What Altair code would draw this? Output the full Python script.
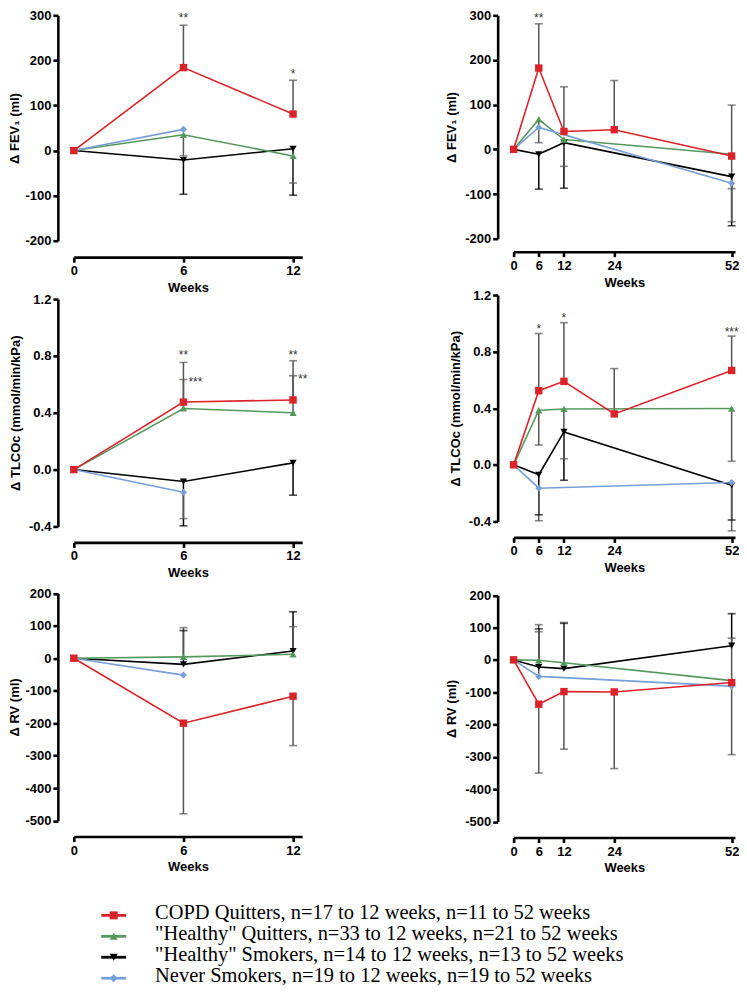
import altair as alt
import pandas as pd

# ---------------- data ----------------
series = ["COPD Quitters", "\"Healthy\" Quitters", "\"Healthy\" Smokers", "Never Smokers"]
legend_labels = [
    "COPD Quitters, n=17 to 12 weeks, n=11 to 52 weeks",
    "\"Healthy\" Quitters, n=33 to 12 weeks, n=21 to 52 weeks",
    "\"Healthy\" Smokers, n=14 to 12 weeks, n=13 to 52 weeks",
    "Never Smokers, n=19 to 12 weeks, n=19 to 52 weeks",
]
line_colors = ["#db2229", "#55985c", "#000000", "#769fd7"]
err_colors = ["#555555", "#555555", "#000000", "#555555"]
shapes = ["square", "triangle-up", "triangle-down", "diamond"]
marker_sizes = [55, 50, 50, 60]

wk12 = [0, 6, 12]
wk12_never = [0, 6]
wk52_copd = [0, 6, 12, 24, 52]
wk52 = [0, 6, 12, 52]
wk52_never = [0, 6, 52]

# FEV1, 0-12 weeks (ml): mean and error-bar end
fev1_12_copd = [0, 184, 81];        fev1_12_copd_bar = [None, 278, 156]
fev1_12_hq = [0, 35, -12];          fev1_12_hq_bar = [None, -12, -72]
fev1_12_hs = [0, -21, 4];           fev1_12_hs_bar = [None, -97, -99]
fev1_12_ns = [0, 47];               fev1_12_ns_bar = [None, None]

# FEV1, 0-52 weeks
fev1_52_copd = [0, 182, 40, 44, -15]; fev1_52_copd_bar = [None, 281, 140, 154, 99]
fev1_52_hq = [0, 67, 22, -11];        fev1_52_hq_bar = [None, 15, -38, -88]
fev1_52_hs = [0, -11, 15, -61];       fev1_52_hs_bar = [None, -89, -87, -171]
fev1_52_ns = [0, 49, -76];            fev1_52_ns_bar = [None, None, -162]

# TLCOc, 0-12 weeks (mmol/min/kPa)
tlco_12_copd = [0, 0.475, 0.49];    tlco_12_copd_bar = [None, 0.754, 0.766]
tlco_12_hq = [0, 0.43, 0.40];       tlco_12_hq_bar = [None, 0.634, 0.66]
tlco_12_hs = [0, -0.084, 0.047];    tlco_12_hs_bar = [None, -0.396, -0.18]
tlco_12_ns = [0, -0.16];            tlco_12_ns_bar = [None, -0.345]

# TLCOc, 0-52 weeks
tlco_52_copd = [0, 0.524, 0.59, 0.36, 0.667]; tlco_52_copd_bar = [None, 0.928, 1.005, 0.68, 0.91]
tlco_52_hq = [0, 0.386, 0.395, 0.398];        tlco_52_hq_bar = [None, 0.14, 0.043, 0.025]
tlco_52_hs = [0, -0.07, 0.233, -0.144];       tlco_52_hs_bar = [None, -0.353, -0.109, -0.39]
tlco_52_ns = [0, -0.165, -0.125];             tlco_52_ns_bar = [None, -0.395, -0.466]

# RV, 0-12 weeks (ml)
rv_12_copd = [0, -200, -117];       rv_12_copd_bar = [None, -479, -269]
rv_12_hq = [0, 4, 12];              rv_12_hq_bar = [None, 94, 97]
rv_12_hs = [0, -19, 22];            rv_12_hs_bar = [None, 85, 143]
rv_12_ns = [0, -52];                rv_12_ns_bar = [None, None]

# RV, 0-52 weeks
rv_52_copd = [0, -137, -98, -99, -70]; rv_52_copd_bar = [None, -350, -276, -336, -293]
rv_52_hq = [0, -1, -9, -64];           rv_52_hq_bar = [None, 87, 116, 67]
rv_52_hs = [0, -22, -27, 44];          rv_52_hs_bar = [None, 96, 113, 143]
rv_52_ns = [0, -51, -81];              rv_52_ns_bar = [None, 109, None]

# significance marks
fev1_12_star_wk = [6, 12];  fev1_12_star_val = [300, 176];  fev1_12_star_txt = ["**", "*"]
fev1_52_star_wk = [6];      fev1_52_star_val = [300];       fev1_52_star_txt = ["**"]
tlco_12_star_wk = [6, 12];  tlco_12_star_val = [0.83, 0.83]; tlco_12_star_txt = ["**", "**"]
tlco_12_side_wk = [6, 12];  tlco_12_side_val = [0.634, 0.66]; tlco_12_side_txt = ["***", "**"]
tlco_52_star_wk = [6, 12, 52]; tlco_52_star_val = [0.98, 1.06, 0.96]; tlco_52_star_txt = ["*", "*", "***"]

draw_order = [2, 1, 3, 0]
MINUS_FIX = "replace(datum.label, '\u2212', '-')"


def build(weeks, means, bars):
    lines, errs = [], []
    for i in draw_order:
        for w, m, b in zip(weeks[i], means[i], bars[i]):
            lines.append({"series": series[i], "week": w, "value": m})
            if b is not None:
                errs.append({"series": series[i], "week": w, "value": m, "end": b,
                             "ecolor": err_colors[i]})
    return pd.DataFrame(lines), pd.DataFrame(errs)


def stars_df(wk, val, txt):
    return pd.DataFrame({"week": wk, "value": val, "txt": txt})


def panel(weeks, means, bars, xdom, xticks, ydom, yticks, yfmt, ytitle,
          w, h, yrange, xoff, ytp, stars=None, side=None):
    ldf, edf = build(weeks, means, bars)
    xs = alt.Scale(domain=xdom, nice=False, zero=False)
    ys = alt.Scale(domain=ydom, range=yrange, nice=False, zero=False)
    xax = alt.Axis(values=xticks, title="Weeks", offset=xoff, titlePadding=4,
                   labelPadding=2.5, format="d", labelFlush=False, labelOverlap=False)
    yax = alt.Axis(values=yticks, format=yfmt, labelExpr=MINUS_FIX, title=ytitle, offset=16,
                   titlePadding=ytp, labelPadding=2, labelOverlap=False)
    X = alt.X("week:Q", scale=xs, axis=xax)
    Y = alt.Y("value:Q", scale=ys, axis=yax)
    color = alt.Color("series:N", scale=alt.Scale(domain=series, range=line_colors), legend=None)
    shape = alt.Shape("series:N", scale=alt.Scale(domain=series, range=shapes), legend=None)
    size = alt.Size("series:N", scale=alt.Scale(domain=series, range=marker_sizes), legend=None)

    rule = alt.Chart(edf).mark_rule(strokeWidth=1.5).encode(
        x=X, y=Y, y2=alt.Y2("end:Q"), color=alt.Color("ecolor:N", scale=None))
    cap = alt.Chart(edf).mark_tick(orient="horizontal", size=8, thickness=1.6).encode(
        x=X, y=alt.Y("end:Q", scale=ys, axis=yax), color=alt.Color("ecolor:N", scale=None))
    line = alt.Chart(ldf).mark_line(strokeWidth=1.6).encode(
        x=X, y=Y, color=color, order=alt.Order("week:Q"))
    pts = alt.Chart(ldf).mark_point(filled=True, opacity=1).encode(
        x=X, y=Y, color=color, shape=shape, size=size)
    layers = [rule, cap, line, pts]
    if stars is not None:
        layers.append(alt.Chart(stars).mark_text(
            font="Liberation Sans", fontSize=12, color="#333333", dy=3,
            align="center", baseline="middle").encode(x=X, y=Y, text="txt:N"))
    if side is not None:
        layers.append(alt.Chart(side).mark_text(
            font="Liberation Sans", fontSize=12, color="#333333", dy=3, dx=5,
            align="left", baseline="middle").encode(x=X, y=Y, text="txt:N"))
    return alt.layer(*layers).properties(width=w, height=h)


W_L, W_R = 229, 222
XL_DOM, XR_DOM = [0, 12.5], [0, 52.8]
XL_T, XR_T = [0, 6, 12], [0, 6, 12, 24, 52]
FEV_T = [-200, -100, 0, 100, 200, 300]
TL_T = [-0.4, 0.0, 0.4, 0.8, 1.2]
RV_T = [-500, -400, -300, -200, -100, 0, 100, 200]

tl = panel([wk12, wk12, wk12, wk12_never],
           [fev1_12_copd, fev1_12_hq, fev1_12_hs, fev1_12_ns],
           [fev1_12_copd_bar, fev1_12_hq_bar, fev1_12_hs_bar, fev1_12_ns_bar],
           XL_DOM, XL_T, [-200, 300], FEV_T, "d", "Δ FEV₁ (ml)",
           W_L, 226, [226, 0], 16.5, 3,
           stars=stars_df(fev1_12_star_wk, fev1_12_star_val, fev1_12_star_txt))
tr = panel([wk52_copd, wk52, wk52, wk52_never],
           [fev1_52_copd, fev1_52_hq, fev1_52_hs, fev1_52_ns],
           [fev1_52_copd_bar, fev1_52_hq_bar, fev1_52_hs_bar, fev1_52_ns_bar],
           XR_DOM, XR_T, [-200, 300], FEV_T, "d", "Δ FEV₁ (ml)",
           W_R, 224, [224, 0], 13, 6,
           stars=stars_df(fev1_52_star_wk, fev1_52_star_val, fev1_52_star_txt))
ml = panel([wk12, wk12, wk12, wk12_never],
           [tlco_12_copd, tlco_12_hq, tlco_12_hs, tlco_12_ns],
           [tlco_12_copd_bar, tlco_12_hq_bar, tlco_12_hs_bar, tlco_12_ns_bar],
           XL_DOM, XL_T, [-0.4, 1.2], TL_T, ".1f", "Δ TLCOc (mmol/min/kPa)",
           W_L, 232, [232, 4], 16, 6,
           stars=stars_df(tlco_12_star_wk, tlco_12_star_val, tlco_12_star_txt),
           side=stars_df(tlco_12_side_wk, tlco_12_side_val, tlco_12_side_txt))
mr = panel([wk52_copd, wk52, wk52, wk52_never],
           [tlco_52_copd, tlco_52_hq, tlco_52_hs, tlco_52_ns],
           [tlco_52_copd_bar, tlco_52_hq_bar, tlco_52_hs_bar, tlco_52_ns_bar],
           XR_DOM, XR_T, [-0.4, 1.2], TL_T, ".1f", "Δ TLCOc (mmol/min/kPa)",
           W_R, 227, [227, 0], 16, 6,
           stars=stars_df(tlco_52_star_wk, tlco_52_star_val, tlco_52_star_txt))
bl = panel([wk12, wk12, wk12, wk12_never],
           [rv_12_copd, rv_12_hq, rv_12_hs, rv_12_ns],
           [rv_12_copd_bar, rv_12_hq_bar, rv_12_hs_bar, rv_12_ns_bar],
           XL_DOM, XL_T, [-500, 200], RV_T, "d", "Δ RV (ml)",
           W_L, 240.5, [240.5, 12.5], 16, 3)
br = panel([wk52_copd, wk52, wk52, wk52_never],
           [rv_52_copd, rv_52_hq, rv_52_hs, rv_52_ns],
           [rv_52_copd_bar, rv_52_hq_bar, rv_52_hs_bar, rv_52_ns_bar],
           XR_DOM, XR_T, [-500, 200], RV_T, "d", "Δ RV (ml)",
           W_R, 241.5, [241.5, 14.5], 16, 6)

# legend panel
leg_df = pd.DataFrame({"label": legend_labels, "series": series})
LY = alt.Y("label:N", scale=alt.Scale(type="point", domain=legend_labels,
                                       range=[39, 102], padding=0), axis=None)
lcolor = alt.Color("series:N", scale=alt.Scale(domain=series, range=line_colors), legend=None)
lshape = alt.Shape("series:N", scale=alt.Scale(domain=series, range=shapes), legend=None)
leg_rule = alt.Chart(leg_df).mark_rule(strokeWidth=2.8).encode(
    x=alt.value(27.5), x2=alt.value(52.5), y=LY, color=lcolor)
leg_pt = alt.Chart(leg_df).mark_point(filled=True, opacity=1, size=64).encode(
    x=alt.value(40), y=LY, color=lcolor, shape=lshape)
leg_txt = alt.Chart(leg_df).mark_text(
    align="left", baseline="middle", font="Liberation Serif", fontSize=20.5, dy=-2,
    color="black").encode(x=alt.value(81.5), y=LY, text="label:N")
legend = alt.layer(leg_rule, leg_pt, leg_txt).properties(width=W_L, height=102)

chart = alt.concat(
    tl, tr, ml, mr, bl, br, legend,
    columns=2, spacing={"row": 54.5, "column": 212}, bounds="flush", align="each",
).properties(
    padding={"left": 0, "top": 0, "right": 0, "bottom": 0}
).configure_view(stroke=None).configure_axis(
    domainColor="black", domainWidth=2.6, tickColor="black", tickWidth=2.6, tickSize=5,
    labelFont="Liberation Sans", labelFontWeight="bold", labelFontSize=13, labelColor="black",
    titleFont="Liberation Sans", titleFontWeight="bold", titleFontSize=13, titleColor="black",
    grid=False,
)

chart.save("out.html", embed_options={"renderer": "svg", "actions": False})
